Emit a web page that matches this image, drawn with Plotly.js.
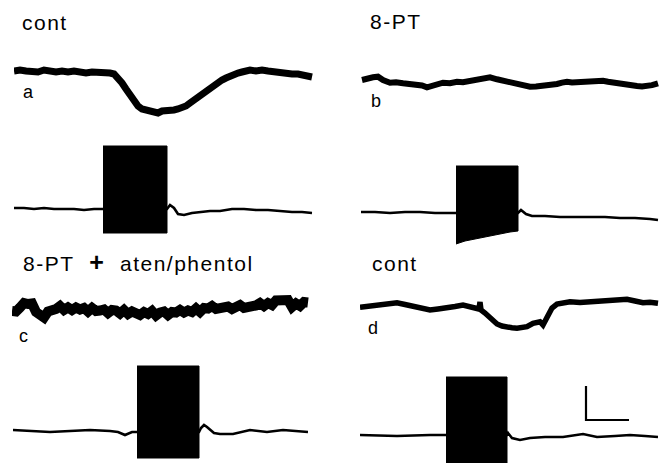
<!DOCTYPE html>
<html><head><meta charset="utf-8">
<script src="https://cdn.plot.ly/plotly-3.0.1.min.js"></script>
<style>
html,body{margin:0;padding:0;background:#fff;}
.annotation-text{letter-spacing:1.5px;}
</style></head>
<body><div id="chart" style="width:663px;height:463px;"></div>
<script>
// ---- data (time in s, potential in arbitrary units) ----
// panel a (cont)
const tA_top = [0,0.6,1.2,1.8,2.4,3.0,3.6,4.2,4.8,5.4,6.0,6.6,7.2,7.8,8.4,9.0,9.6,10.0,10.4,10.8,11.2,11.6,12.0,12.4,12.8,13.2,13.6,14.0,14.4,14.8,15.2,15.6,16.0,16.4,16.8,17.2,17.6,18.0,18.4,18.8,19.2,19.6,20.0,20.4,20.8,21.2,21.6,22.0,22.4,22.8,23.2,23.6,24.2,24.8,25.4,26.0,26.6,27.2,27.8,28.4,29.0,29.6,29.8];
const vA_top = [1,2,1,1,0,2,1,0,1,0,1,0,-1,0,0,-1,-1,-2,-6,-11,-17,-23,-29,-34,-37,-38,-39,-40,-41,-39,-39,-38,-38,-37,-36,-34,-31,-28,-25,-22,-18,-15,-12,-10,-8,-6,-4,-3,-1,0,1,2,1,2,1,0,0,-1,-2,-2,-4,-6,-5];
const tA_bot = [0,1,2,3,4,5,6,7,8,8.9,15.3,15.6,16,16.4,17,17.8,18.6,19.6,20.6,21.8,23,24.2,25.4,26.6,27.8,28.8,29.8];
const vA_bot = [1,1,0,1,0,0,0,-1,0,0,0,4,1,-5,-6,-4,-3,-2,-2,0,0,-1,-1,-2,-3,-3,-4];
const stimA_t = [8.9,15.3], stimA_hi = [63,63], stimA_lo = [-24,-24];

// panel b (8-PT)
const tB_top = [0.2,0.7,1.3,1.8,2.3,3.0,3.6,4.3,5.0,5.7,6.2,6.7,7.3,7.8,8.3,9.0,9.7,10.3,11.0,11.7,12.3,13.0,13.7,14.3,15.0,15.5,16.0,16.5,17.0,17.6,18.3,19.0,19.7,20.2,20.7,21.2,21.7,22.3,23.0,23.6,24.3,24.8,25.3,25.8,26.3,27.0,27.7,28.2,28.7,29.2,29.8];
const vB_top = [2,3.7,4.7,5.3,2,-0.7,-0.2,-1.3,-1.8,-2.3,-3.4,-5.3,-4,-2.5,-0.7,-1.2,0.3,-0.2,1,2.2,3.7,4.7,2.7,1.5,0.3,-1.5,-3,-3.8,-4.7,-4.4,-4,-2.8,-2,-0.6,0.3,-0.5,-0.3,0.2,0.7,1.5,1.3,0.2,-0.7,-2,-3,-3.4,-4,-4.5,-4,-3.1,-1.3];
const tB_bot = [0.1,1.5,3,4.5,6,7.5,9,9.6,15.8,16.1,16.6,17.2,18.5,20,21.5,23,24.5,26,27.5,29,29.8];
const vB_bot = [2,2,1,2,2,1,1,1,1,4,0,-2,-2,-3,-3,-3,-3,-4,-4,-5,-6];
const stimB_t = [9.6,10.5,12.0,13.5,15.0,15.8], stimB_hi = [48,48,48,48,48,48], stimB_lo = [-30,-27,-24,-21,-18,-17];

// panel c (8-PT + aten/phentol)
const tC_top = [0,0.4,0.8,1.2,1.6,2.0,2.4,2.8,3.2,3.6,4.0,4.4,4.8,5.2,5.6,6.0,6.4,6.8,7.2,7.6,8.0,8.4,8.8,9.2,9.6,10.0,10.4,10.8,11.2,11.6,12.0,12.4,12.8,13.2,13.6,14.0,14.4,14.8,15.2,15.6,16.0,16.4,16.8,17.2,17.6,18.0,18.4,18.8,19.2,19.6,20.0,20.4,20.8,21.2,21.6,22.0,22.4,22.8,23.2,23.6,24.0,24.4,24.8,25.2,25.6,26.0,26.4,26.8,27.2,27.6,28.0,28.4,28.8,29.2,29.6];
const vC_top = [-1,-1.5,2.5,7,6,6.5,-2,-4.5,-7.5,-1.5,-1.5,1,4,0,2.5,0,2.5,0.5,2,-1.5,2,-1,-0.5,0.5,-3,0,-0.5,-3.5,0,-4,-1.5,-3.5,-5,-2,-4,-1,-5.5,-2.5,-1.5,-5,-2,-2.5,0,-2.5,-0.5,-2,1.5,-2,2,1.5,4,1,1.5,4.5,3.5,1,4,5,2,2.5,5.5,4.5,7,4,7,5,9.5,10.5,9.5,10,3,6.5,4,8,7.5];
const tC_bot = [0.1,1.8,3.8,5.8,7.8,9.8,10.6,11.3,12,12.5,18.7,18.9,19.2,19.5,19.8,20.2,20.8,22.1,23.8,25.5,27.1,28.6,29.6];
const vC_bot = [2,1,0,1,2,1,0,-3,0,0,0,4,7,5,2,-1,-2,-2,2,0,2,1,0];
const stimC_t = [12.5,18.7], stimC_hi = [66,66], stimC_lo = [-26,-26];

// panel d (cont)
const tD_top = [0,1.0,2,2.8,3.7,4.5,5.3,6.2,7,7.8,8.7,9.5,10.3,10.8,11.3,11.9,12.0,12.1,12.5,13,13.4,13.7,14.2,14.7,15.2,15.7,16.2,16.7,17.3,18,18.3,18.8,19.2,19.7,20.3,21,22,23,24.2,25.3,26.0,26.7,27.5,28.3,29.0,29.8];
const vD_top = [-2.3,-1,0,1.5,2.3,0.5,-1.7,-3.5,-5,-4,-3.3,-1.5,0,-1,-2.3,-4,3,-5,-8,-12.3,-16,-19,-21,-22.3,-22.8,-23.3,-22.5,-21.7,-18.3,-16.7,-20,-10,-3,1,2.5,3.3,2.6,3.3,3.8,4.3,5,5.7,4,2.3,2.8,1.7];
const tD_bot = [0,3.7,7,8.6,14.7,14.8,15.2,16,17,18.5,20.3,22.3,23.7,25.5,27,28.5,29.8];
const vD_bot = [0,-1,0,0,0,2,-3,-5,-3,-2,-2,1,-2,-1,0,-1,-2];
const stimD_t = [8.6,14.7], stimD_hi = [58,58], stimD_lo = [-32,-32];

// scale bar (panel d, lower axes)
const scaleT = [22.6,22.6,26.9];
const scaleV = [49,15,15];

// ---- layout helpers ----
const W = 663, H = 463;
function xax(pxL, pxR){return {domain:[pxL/W,pxR/W],range:[0,30],visible:false,fixedrange:true};}
function yax(xa, top, bot, base){return {anchor:xa,domain:[1-bot/H,1-top/H],range:[base-bot,base-top],visible:false,fixedrange:true};}
function poly(t,hi,lo){return {x:t.concat(t.slice().reverse()),y:hi.concat(lo.slice().reverse())};}

const traces = [];
function trace(x,y,xa,ya,w){traces.push({type:'scatter',mode:'lines',x:x,y:y,xaxis:xa,yaxis:ya,line:{color:'#000',width:w},hoverinfo:'skip',showlegend:false});}
function stim(t,hi,lo,xa,ya){const p=poly(t,hi,lo);traces.push({type:'scatter',mode:'lines',x:p.x,y:p.y,xaxis:xa,yaxis:ya,fill:'toself',fillcolor:'#000',line:{color:'#000',width:1},hoverinfo:'skip',showlegend:false});}

trace(tA_top,vA_top,'x','y',7);
trace(tA_bot,vA_bot,'x','y2',2.6);
stim(stimA_t,stimA_hi,stimA_lo,'x','y2');
trace(tB_top,vB_top,'x2','y3',6);
trace(tB_bot,vB_bot,'x2','y4',2.6);
stim(stimB_t,stimB_hi,stimB_lo,'x2','y4');
trace(tC_top,vC_top,'x3','y5',10);
trace(tC_bot,vC_bot,'x3','y6',2.6);
stim(stimC_t,stimC_hi,stimC_lo,'x3','y6');
trace(tD_top,vD_top,'x4','y7',5.5);
trace(tD_bot,vD_bot,'x4','y8',2.6);
stim(stimD_t,stimD_hi,stimD_lo,'x4','y8');
trace(scaleT,scaleV,'x4','y8',2.2);

const F = 'Liberation Sans, Arial, sans-serif';
function lab(text,px,py,size){return {text:text,xref:'paper',yref:'paper',x:px/W,y:1-py/H,xanchor:'left',yanchor:'middle',showarrow:false,font:{family:F,size:size,color:'#000'}};}

const layout = {
  width:W,height:H,autosize:false,
  margin:{l:0,r:0,t:0,b:0,pad:0},
  paper_bgcolor:'#fff',plot_bgcolor:'rgba(0,0,0,0)',
  showlegend:false,
  xaxis:xax(14,314), xaxis2:xax(360,660), xaxis3:xax(12,312), xaxis4:xax(360,660),
  yaxis:yax('x',50,130,72),
  yaxis2:yax('x',135,240,209),
  yaxis3:yax('x2',50,130,82),
  yaxis4:yax('x2',135,255,214),
  yaxis5:yax('x3',280,350,310),
  yaxis6:yax('x3',355,463,432),
  yaxis7:yax('x4',280,350,305),
  yaxis8:yax('x4',355,463,435),
  annotations:[
    lab('cont',20,22,21),
    lab('8-PT',368,21,21),
    lab('8-PT\u00A0 <b><span style="font-size:25px">+</span></b> \u00A0aten/phentol',21,262,21),
    lab('cont',370,263,21),
    lab('a',21,92,18),
    lab('b',369,101,18),
    lab('c',17,336,18),
    lab('d',366,328,18)
  ]
};
Plotly.newPlot('chart',traces,layout,{staticPlot:true,displayModeBar:false});
</script></body></html>
